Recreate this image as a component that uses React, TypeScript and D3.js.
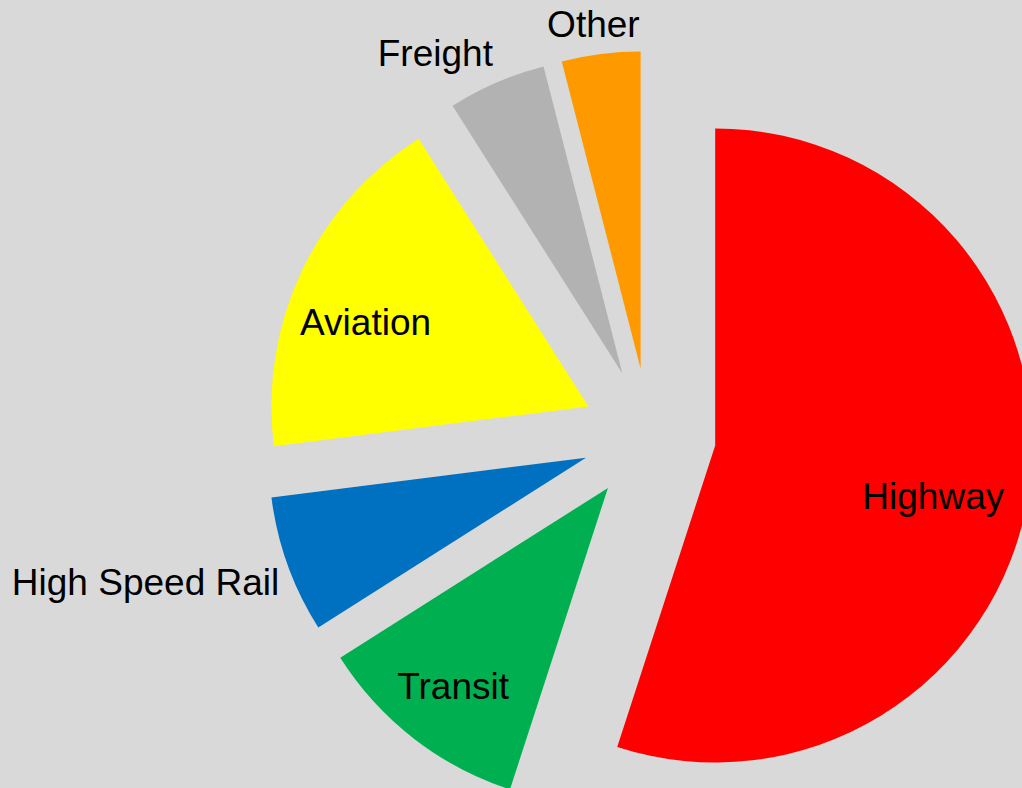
import React from "react";
import * as d3 from "d3";

const categories = ["Highway", "Transit", "High Speed Rail", "Aviation", "Freight", "Other"];
const values = [55, 11, 7, 18, 5, 4];
const colors = ["#ff0000", "#00b050", "#0070c0", "#ffff00", "#b2b2b2", "#ff9900"];

const W = 1022;
const H = 788;
const CX = 649;
const CY = 435;
const R = 317;
const EXPLODE = 67;
const FONT = 37;
const OUTSIDE_THRESHOLD = 0.1;

export default function App() {
  const data = categories.map((c, i) => ({ name: c, value: values[i], color: colors[i] }));
  const total = d3.sum(values);
  const pie = d3
    .pie<any>()
    .value((d: any) => d.value)
    .sort(null)
    .startAngle(0)
    .endAngle(2 * Math.PI);
  const arcs = pie(data);
  const arcGen = d3.arc<any>().innerRadius(0).outerRadius(R);

  return (
    <svg
      width={W}
      height={H}
      style={{ position: "absolute", left: 0, top: 0 }}
      fontFamily="'Liberation Sans', Arial, sans-serif"
    >
      <rect x={0} y={0} width={W} height={H} fill="#d9d9d9" />
      <g transform={`translate(${CX},${CY})`}>
        {arcs.map((a, i) => {
          const mid = (a.startAngle + a.endAngle) / 2;
          const dx = Math.sin(mid);
          const dy = -Math.cos(mid);
          const ox = EXPLODE * dx;
          const oy = EXPLODE * dy;
          return (
            <g key={i} transform={`translate(${ox},${oy})`}>
              <path d={arcGen(a) as string} fill={a.data.color} />
            </g>
          );
        })}
        {arcs.map((a, i) => {
          const mid = (a.startAngle + a.endAngle) / 2;
          const dx = Math.sin(mid);
          const dy = -Math.cos(mid);
          const ox = EXPLODE * dx;
          const oy = EXPLODE * dy;
          const frac = a.data.value / total;
          if (frac >= OUTSIDE_THRESHOLD) {
            const rho = 0.735 * R;
            const x = ox + rho * dx - 12;
            const y = oy + rho * dy + 14;
            return (
              <text
                key={"l" + i}
                x={x}
                y={y + 0.358 * FONT}
                textAnchor="middle"
                fontSize={FONT}
                fill="#000"
              >
                {a.data.name}
              </text>
            );
          }
          const rho = R + 9;
          let px = ox + rho * dx;
          const py = oy + rho * dy;
          const anchor = dx < -0.3 ? "end" : dx > 0.3 ? "start" : "middle";
          if (anchor === "middle") {
            const estW = a.data.name.length * 0.55 * FONT;
            px += (dx * estW) / 2;
          }
          const baseline = dy > 0 ? py + 0.716 * FONT : py - 0.212 * FONT;
          return (
            <text
              key={"l" + i}
              x={px}
              y={baseline}
              textAnchor={anchor}
              fontSize={FONT}
              fill="#000"
            >
              {a.data.name}
            </text>
          );
        })}
      </g>
    </svg>
  );
}
